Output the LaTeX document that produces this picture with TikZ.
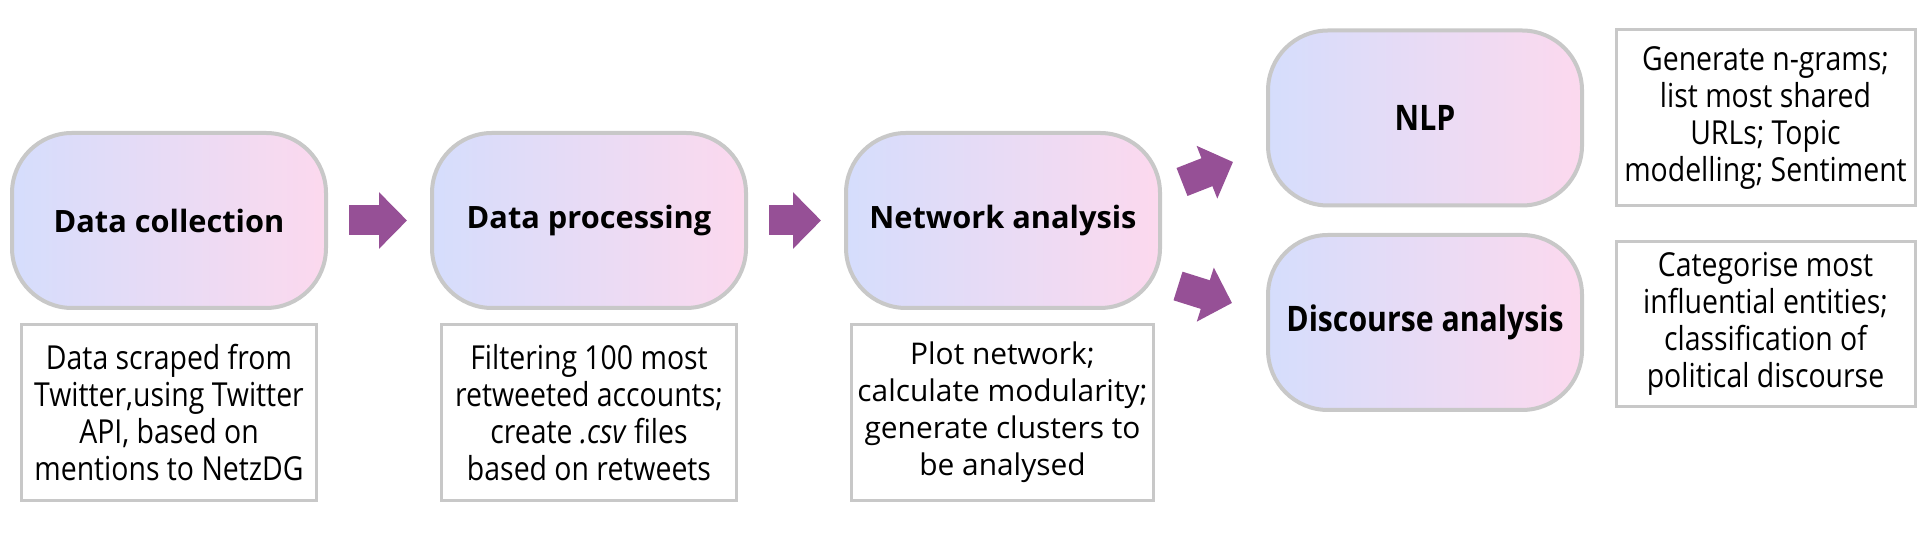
\documentclass[tikz,border=0pt]{standalone}
\usepackage{fontspec}
\setmainfont{Open Sans}
\newfontfamily\narrowfont[FakeStretch=0.86]{Open Sans}
\usepackage{tikz}
\usepackage{xcolor}
\usetikzlibrary{arrows.meta, positioning, calc}
\definecolor{boxGray}{RGB}{200,200,200}
\definecolor{gradLeft}{RGB}{213,221,252}
\definecolor{gradRight}{RGB}{252,217,238}
\definecolor{arrowPurple}{RGB}{150,80,150}
\tikzset{
    stepBox/.style={rounded corners=1.2cm, draw=boxGray, line width=0.08cm, left color=gradLeft, right color=gradRight, minimum width=6.28cm, minimum height=3.5cm, align=center, font=\fontsize{17.5}{20}\selectfont\bfseries},
    narrowStep/.style={stepBox, font=\fontsize{20}{24}\narrowfont\bfseries},
    noteBox/.style={draw=boxGray, line width=0.06cm, fill=white, minimum width=5.9cm, minimum height=3.52cm, align=center, font=\fontsize{17}{21}\selectfont},
    narrowNote/.style={noteBox, font=\fontsize{18.8}{21}\narrowfont},
    blockArrow/.style={draw=arrowPurple, line width=0.6cm, -{Triangle[length=0.56cm, width=1.1cm]}}
}

\begin{document}
\begin{tikzpicture}
    \useasboundingbox[fill=white] (0,0) rectangle (38.4,10.86);
    % --- Pipeline steps ---
    \node[stepBox] (coll) at (3.38,6.45) {Data collection};
    \node[stepBox] (proc) at (11.78,6.45) {Data processing};
    \node[stepBox] (net) at (20.06,6.45) {Network analysis};
    \node[narrowStep] (nlp) at (28.5,8.5) {NLP};
    \node[narrowStep] (disc) at (28.5,4.41) {Discourse analysis};
    % --- Notes ---
    \node[narrowNote] (collNote) at (3.38,2.61) {Data scraped from\\Twitter,using Twitter\\API, based on\\mentions to NetzDG};
    \node[narrowNote] (procNote) at (11.78,2.61) {Filtering 100 most\\retweeted accounts;\\create \textit{.csv} files\\based on retweets};
    \node[noteBox] (netNote) at (20.05,2.61) {Plot network;\\calculate modularity;\\generate clusters to\\be analysed};
    \node[narrowNote, minimum width=5.98cm] (nlpNote) at (35.31,8.5) {Generate n-grams;\\list most shared\\URLs; Topic\\modelling; Sentiment};
    \node[narrowNote, minimum width=5.98cm, minimum height=3.3cm] (discNote) at (35.31,4.38) {Categorise most\\influential entities;\\classification of\\political discourse};
    % --- Arrows ---
    \draw[blockArrow, shorten <=0.42cm, shorten >=0.46cm] (coll) -- (proc);
    \draw[blockArrow, shorten <=0.42cm, shorten >=0.46cm] (proc) -- (net);
    \coordinate (upStart) at ([shift={(0.4,0.77)}]net.east);
    \coordinate (upEnd) at ([shift={(-0.66,-0.88)}]nlp.west);
    \coordinate (downStart) at ([shift={(0.32,-1.31)}]net.east);
    \coordinate (downEnd) at ([shift={(-0.68,0.39)}]disc.west);
    \draw[blockArrow] (upStart) -- (upEnd);
    \draw[blockArrow] (downStart) -- (downEnd);
\end{tikzpicture}
\end{document}
